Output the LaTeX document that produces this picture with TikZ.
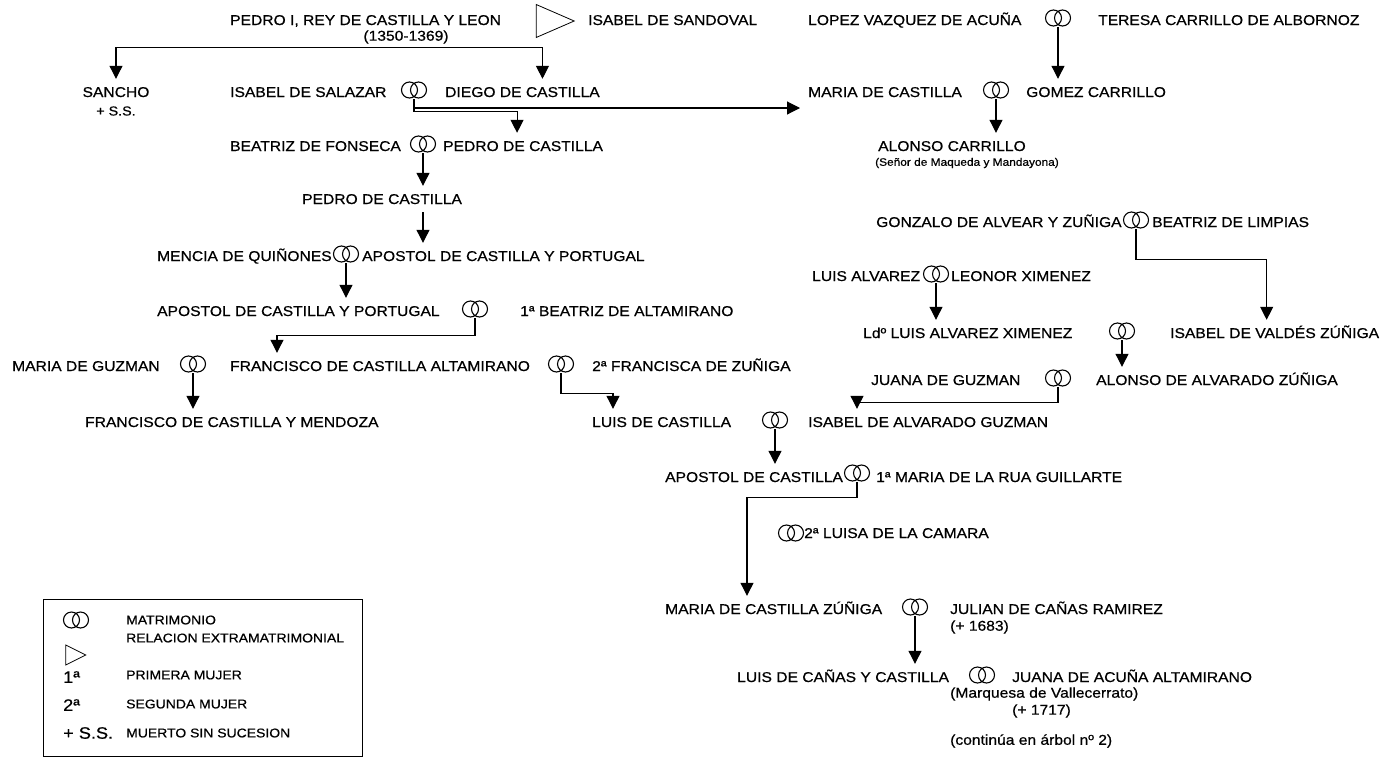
\documentclass[tikz,border=0pt]{standalone}
\usepackage{fontspec}
\setmainfont{Liberation Sans}[FakeStretch=1.1, FakeBold=0.6]
\usetikzlibrary{arrows.meta, shapes.geometric}
\newcommand{\txtsize}{\fontsize{14.2}{17}\selectfont}
\newcommand{\smallsize}{\fontsize{13}{15}\selectfont}
\newcommand{\notesize}{\fontsize{10.8}{13}\selectfont}
\newcommand{\keysize}{\fontsize{12.7}{15}\selectfont}
\newcommand{\keybig}{\fontsize{16.5}{19}\selectfont}

\begin{document}
\begin{tikzpicture}[
  x=1pt, y=-1pt, font=\txtsize,
  person/.style={anchor=west, inner xsep=0pt, inner ysep=8pt, text height=10pt, text depth=0pt},
  note/.style={anchor=west, inner sep=0pt},
  wed/.style={inner sep=0pt, minimum width=26pt, minimum height=18pt},
  extra/.style={draw, isosceles triangle, isosceles triangle apex angle=47,
                isosceles triangle stretches, minimum width=33pt, minimum height=38pt,
                inner sep=0pt, line width=0.8pt},
  ar/.style={-{Triangle[length=13pt, width=13pt]}, line width=1.1pt},
  ring/.style={line width=1.1pt},
  keytxt/.style={anchor=west, inner sep=0pt, font=\keysize},
]
\useasboundingbox (0,0) rectangle (1391,758);

\node[person] (pedroI) at (230,20) {PEDRO I, REY DE CASTILLA Y LEON};
\node[note, anchor=center] (pedroIdate) at (406,37) {(1350-1369)};
\node[extra] (rel) at (547,21) {};
\node[person] (sandoval) at (588,20) {ISABEL DE SANDOVAL};
\node[person] (lopez) at (808,20) {LOPEZ VAZQUEZ DE ACUÑA};
\node[wed] (wLopez) at (1058,18) {};
\node[person] (teresa) at (1098,20) {TERESA CARRILLO DE ALBORNOZ};

\node[person, anchor=center] (sancho) at (116,92) {SANCHO};
\node[note, anchor=center, font=\smallsize] (sanchoSS) at (116,111) {+ S.S.};
\node[person] (salazar) at (230,92) {ISABEL DE SALAZAR};
\node[wed] (wDiego) at (414,90) {};
\node[person] (diego) at (445,92) {DIEGO DE CASTILLA};
\node[person] (mariaC) at (808,92) {MARIA DE CASTILLA};
\node[wed] (wMaria) at (996,90) {};
\node[person] (gomez) at (1026,92) {GOMEZ CARRILLO};

\node[person] (fonseca) at (230,146) {BEATRIZ DE FONSECA};
\node[wed] (wPedro) at (423,144) {};
\node[person] (pedro) at (443,146) {PEDRO DE CASTILLA};
\node[person] (alonsoC) at (878,146) {ALONSO CARRILLO};
\node[note, font=\notesize] (senor) at (875,163) {(Señor de Maqueda y Mandayona)};

\node[person] (pedro2) at (302,199) {PEDRO DE CASTILLA};

\node[person] (mencia) at (157,256) {MENCIA DE QUIÑONES};
\node[wed] (wMencia) at (346,254) {};
\node[person] (apostol1) at (362,256) {APOSTOL DE CASTILLA Y PORTUGAL};

\node[person] (apostol2) at (157,311) {APOSTOL DE CASTILLA Y PORTUGAL};
\node[wed] (wApostol) at (475,309) {};
\node[person] (beatrizA) at (520,311) {1ª BEATRIZ DE ALTAMIRANO};

\node[person] (guzman) at (12,366) {MARIA DE GUZMAN};
\node[wed] (wGuzman) at (193,364) {};
\node[person] (francisco) at (230,366) {FRANCISCO DE CASTILLA ALTAMIRANO};
\node[wed] (wFrancisco) at (561,364) {};
\node[person] (franciscaZ) at (592,366) {2ª FRANCISCA DE ZUÑIGA};

\node[person] (mendoza) at (85,422) {FRANCISCO DE CASTILLA Y MENDOZA};
\node[person] (luis) at (592,422) {LUIS DE CASTILLA};
\node[wed] (wLuis) at (775,420) {};
\node[person] (isabelA) at (808,422) {ISABEL DE ALVARADO GUZMAN};

\node[person] (gonzalo) at (876,222) {GONZALO DE ALVEAR Y ZUÑIGA};
\node[wed] (wGonz) at (1136,220) {};
\node[person] (limpias) at (1152,222) {BEATRIZ DE LIMPIAS};

\node[person] (luisA) at (812,276) {LUIS ALVAREZ};
\node[wed] (wLuisA) at (936,274) {};
\node[person] (leonor) at (951,276) {LEONOR XIMENEZ};

\node[person] (ldo) at (863,333) {Ldº LUIS ALVAREZ XIMENEZ};
\node[wed] (wLdo) at (1122,331) {};
\node[person] (valdes) at (1170,333) {ISABEL DE VALDÉS ZÚÑIGA};

\node[person] (juana) at (871,380) {JUANA DE GUZMAN};
\node[wed] (wJuana) at (1058,378) {};
\node[person] (alonsoA) at (1096,380) {ALONSO DE ALVARADO ZÚÑIGA};

\node[person] (apostol3) at (665,477) {APOSTOL DE CASTILLA};
\node[wed] (wApostol3) at (857,473) {};
\node[person] (mariaR) at (876,477) {1ª MARIA DE LA RUA GUILLARTE};

\node[wed] (wLuisa) at (791,533) {};
\node[person] (luisa) at (804,533) {2ª LUISA DE LA CAMARA};

\node[person] (mariaZ) at (665,609) {MARIA DE CASTILLA ZÚÑIGA};
\node[wed] (wMariaZ) at (915,607) {};
\node[person] (julian) at (950,609) {JULIAN DE CAÑAS RAMIREZ};
\node[note] (julianD) at (950,627) {(+ 1683)};

\node[person] (luisC) at (737,677) {LUIS DE CAÑAS Y CASTILLA};
\node[wed] (wLuisC) at (982,675) {};
\node[person] (acuna) at (1012,677) {JUANA DE ACUÑA ALTAMIRANO};
\node[note] (marquesa) at (950,694) {(Marquesa de Vallecerrato)};
\node[note] (acunaD) at (1012,711) {(+ 1717)};
\node[note] (sigue) at (950,741) {(continúa en árbol nº 2)};

\node[draw, line width=0.8pt, anchor=north west, inner sep=0pt,
      minimum width=319pt, minimum height=157pt] (key) at (43,599) {};
\node[wed] (wKey) at (76,620) {};
\node[keytxt] (keyMat) at (126,620) {MATRIMONIO};
\node[extra, isosceles triangle apex angle=53, minimum width=20pt, minimum height=20pt] (relKey) at (72,655) {};
\node[keytxt] (keyRel) at (126,638) {RELACION EXTRAMATRIMONIAL};
\node[note, font=\keybig] (key1) at (63,677) {1ª};
\node[keytxt] (keyPri) at (126,675) {PRIMERA MUJER};
\node[note, font=\keybig] (key2) at (63,705) {2ª};
\node[keytxt] (keySeg) at (126,704) {SEGUNDA MUJER};
\node[note, font=\keybig] (keySS) at (63,733) {+ S.S.};
\node[keytxt] (keyMue) at (126,733) {MUERTO SIN SUCESION};

\foreach \w in {wLopez,wDiego,wMaria,wPedro,wMencia,wApostol,wGuzman,wFrancisco,wLuis,
                wGonz,wLuisA,wLdo,wJuana,wApostol3,wLuisa,wMariaZ,wLuisC,wKey}
  \draw[ring] ([xshift=-4.5pt]\w.center) circle (8pt) ([xshift=4.5pt]\w.center) circle (8pt);

\coordinate (pk) at ([yshift=-14pt]pedroI.south);
\draw[ar] (pk) -| (sancho);
\draw[ar] (pk) -| ([xshift=20pt]diego.north);
\draw[ar] (wLopez) -- (wLopez |- gomez.north);
\draw[ar] (wDiego.south) |- ([shift={(-8pt,-16pt)}]mariaC.west);
\draw[ar] (wDiego.south) -- ++(0,12) -| ([xshift=-6pt]pedro.north);
\draw[ar] (wMaria) -- (wMaria |- alonsoC.north);
\draw[ar] (wPedro) -- (wPedro |- pedro2.north);
\draw[ar] (pedro2.south -| wPedro) -- (wPedro |- apostol1.north);
\draw[ar] (wMencia) -- (wMencia |- apostol2.north);
\draw[ar] (wApostol.south) -- ++(0,17) -| ([xshift=47pt]francisco.north west);
\draw[ar] (wGuzman) -- (wGuzman |- mendoza.north);
\draw[ar] (wFrancisco.south) -- ++(0,20) -| ([xshift=21pt]luis.north west);
\draw[ar] (wLuis) -- (wLuis |- apostol3.north);
\draw[ar] (wGonz.south) -- ++(0,30) -| ([xshift=-8pt]valdes.north);
\draw[ar] (wLuisA) -- (wLuisA |- ldo.north);
\draw[ar] (wLdo) -- (wLdo |- alonsoA.north);
\draw[ar] (wJuana.south) -- ++(0,15) -| ([xshift=49pt]isabelA.north west);
\draw[ar] (wApostol3.south) -- ++(0,15) -| ([xshift=82pt]mariaZ.north west);
\draw[ar] (wMariaZ) -- (wMariaZ |- luisC.north);
\end{tikzpicture}
\end{document}
